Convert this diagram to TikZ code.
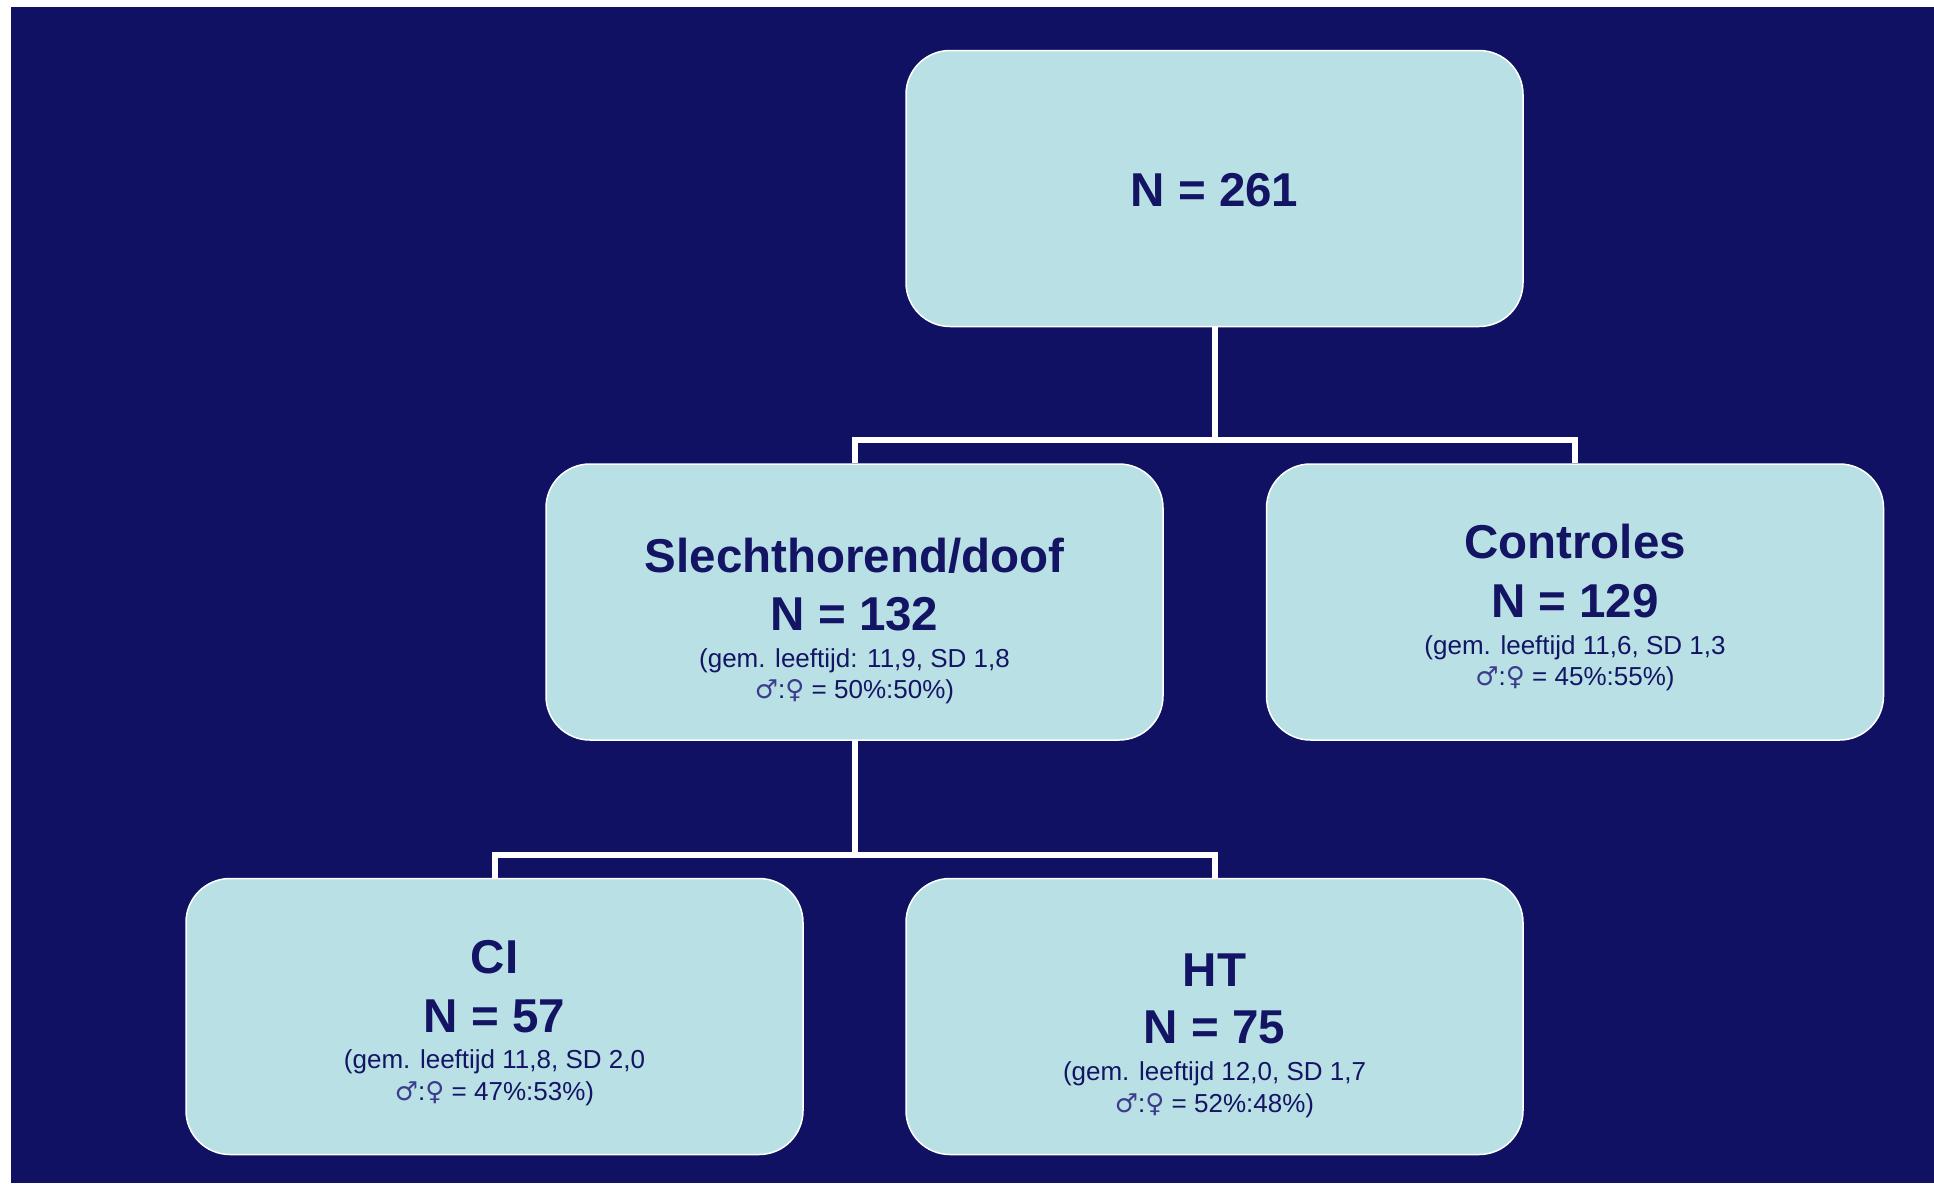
\documentclass[tikz,border=0pt]{standalone}
\usepackage{fontspec}
\setmainfont{Liberation Sans}
\newfontfamily\symfont{DejaVu Sans}
\definecolor{bgnavy}{RGB}{17,17,99}
\definecolor{boxfill}{RGB}{185,224,228}
\definecolor{txtnavy}{RGB}{20,20,100}
\definecolor{symcol}{RGB}{60,60,140}
\newcommand{\mysyms}{{\symfont\color{symcol}♂}:{\symfont\color{symcol}♀}}
\begin{document}
\begin{tikzpicture}[x=1pt,y=-1pt,
  box/.style={draw=white, line width=1.5pt, fill=boxfill, rounded corners=44pt,
    minimum width=617pt, minimum height=276pt, inner sep=0pt},
  ttl/.style={anchor=base, text=txtnavy, font=\fontsize{47.5}{56}\selectfont\bfseries, inner sep=0pt},
  sml/.style={anchor=base, text=txtnavy, font=\fontsize{26}{30}\selectfont, inner sep=0pt},
  conn/.style={draw=white, line width=6pt, line join=miter}]
\useasboundingbox (0,0) rectangle (1934,1183);
\fill[white] (0,0) rectangle (1934,1183);
\fill[bgnavy] (11,7) rectangle (1934,1183);

% boxes
\node[box] (top)  at (1214.5,188.5) {};
\node[box] (mid)  at (854.5,602) {};
\node[box] (ctrl) at (1575,602) {};
\node[box] (ci)   at (494.5,1016.5) {};
\node[box] (ht)   at (1214.5,1016.5) {};

% connectors
\coordinate (j1) at (1214.5,440);
\coordinate (j2) at (854.5,855);
\draw[conn] (top.south) -- (j1);
\draw[conn] (mid.north) |- (j1) -| (ctrl.north);
\draw[conn] (mid.south) -- (j2);
\draw[conn] (ci.north) |- (j2) -| (ht.north);

% texts
\node[ttl] (topa) at (1214.5,206) {N = 261};

\node[ttl] (mida) at (854.5,572) {Slechthorend/doof};
\node[ttl] (midb) at (854.5,630) {N = 132};
\node[sml] (midc) at (854.5,667) {(gem. leeftijd: 11,9, SD 1,8};
\node[sml] (midd) at (854.5,698) {\mysyms{} = 50\%:50\%)};

\node[ttl] (ctrla) at (1575,558) {Controles};
\node[ttl] (ctrlb) at (1575,617) {N = 129};
\node[sml] (ctrlc) at (1575,654) {(gem. leeftijd 11,6, SD 1,3};
\node[sml] (ctrld) at (1575,685) {\mysyms{} = 45\%:55\%)};

\node[ttl] (cia) at (494.5,973) {CI};
\node[ttl] (cib) at (494.5,1032) {N = 57};
\node[sml] (cic) at (494.5,1068) {(gem. leeftijd 11,8, SD 2,0};
\node[sml] (cid) at (494.5,1100) {\mysyms{} = 47\%:53\%)};

\node[ttl] (hta) at (1214.5,986) {HT};
\node[ttl] (htb) at (1214.5,1043) {N = 75};
\node[sml] (htc) at (1214.5,1080) {(gem. leeftijd 12,0, SD 1,7};
\node[sml] (htd) at (1214.5,1112) {\mysyms{} = 52\%:48\%)};
\end{tikzpicture}
\end{document}
